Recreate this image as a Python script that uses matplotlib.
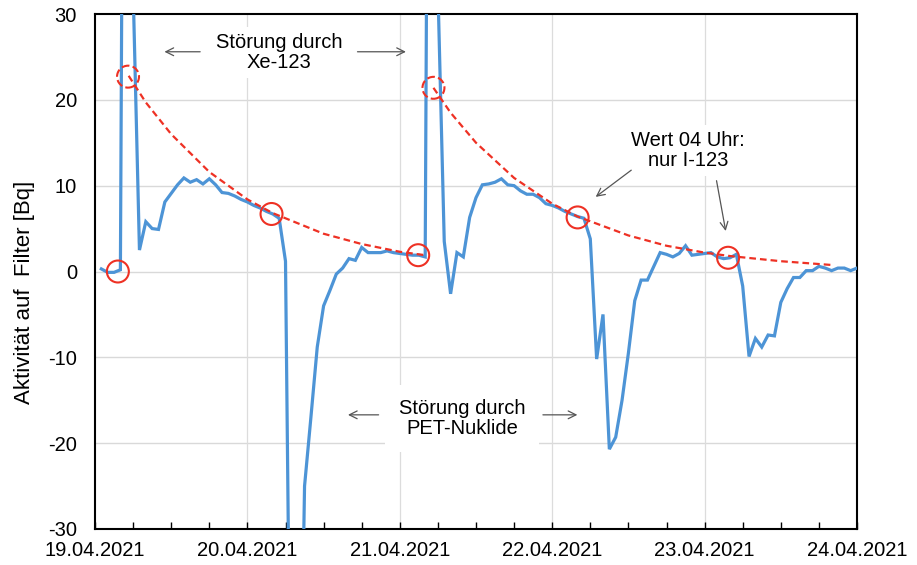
import matplotlib
matplotlib.use('Agg')
import matplotlib.pyplot as plt
from matplotlib.ticker import MultipleLocator

plt.rcParams['font.family'] = ['Liberation Sans', 'DejaVu Sans']

# ---- data (x in hours since 19.04.2021 00:00) ----
blue_hours = list(range(1, 121))
blue_values = [
    0.3, -0.1, -0.1, 0.2, 150, 33, 2.5, 5.8, 5.0, 4.9,
    8.1, 9.1, 10.1, 10.9, 10.4, 10.7, 10.2, 10.8, 10.1, 9.2,
    9.1, 8.8, 8.4, 8.1, 7.7, 7.4, 7.0, 6.7, 6.2, 1.2,
    -70, -70, -25, -17, -8.8, -4.0, -2.2, -0.3, 0.4, 1.5,
    1.3, 2.8, 2.2, 2.2, 2.2, 2.4, 2.2, 2.1, 2.0, 1.9,
    1.9, 1.7, 150, 33, 3.5, -2.6, 2.2, 1.7, 6.3, 8.6,
    10.1, 10.2, 10.4, 10.8, 10.1, 10.0, 9.4, 9.0, 9.0, 8.6,
    7.9, 7.7, 7.4, 7.0, 6.7, 6.4, 6.2, 3.8, -10.2, -5.0,
    -20.7, -19.3, -15.0, -9.5, -3.4, -1.0, -1.0, 0.6, 2.2, 2.0,
    1.7, 2.1, 3.0, 1.9, 2.0, 2.1, 2.2, 1.7, 1.5, 1.6,
    2.0, -1.7, -9.9, -7.8, -8.8, -7.4, -7.5, -3.6, -2.0, -0.7,
    -0.7, 0.1, 0.1, 0.6, 0.4, 0.1, 0.4, 0.4, 0.1, 0.4,
]

decay1_hours = [5.3, 8, 12, 18, 24, 28, 36, 42, 48, 52]
decay1_values = [22.8, 19.7, 16.0, 11.6, 8.4, 6.8, 4.4, 3.2, 2.3, 1.9]
decay2_hours = [53.3, 56, 60, 66, 72, 76, 84, 90, 96, 100, 108, 116]
decay2_values = [21.4, 18.5, 15.0, 10.9, 7.9, 6.4, 4.2, 3.0, 2.2, 1.8, 1.2, 0.76]

circle_hours = [3.6, 27.8, 50.9, 76.0, 99.7]
circle_values = [0.0, 6.7, 1.9, 6.3, 1.6]
dcircle_hours = [5.2, 53.3]
dcircle_values = [22.7, 21.4]

xtick_hours = [0, 24, 48, 72, 96, 120]
xtick_labels = ['19.04.2021', '20.04.2021', '21.04.2021',
                '22.04.2021', '23.04.2021', '24.04.2021']
yticks = [-30, -20, -10, 0, 10, 20, 30]

BLUE = '#4d94d6'
RED = '#ee3124'
ARROW = '#555555'
FS = 14.5

fig = plt.figure(figsize=(9.17, 5.65), dpi=100)
ax = fig.add_axes([95/917, 36/565, 762/917, 515/565])

ax.set_xlim(0, 120)
ax.set_ylim(-30, 30)

# grid
for y in yticks[1:-1]:
    ax.axhline(y, color='#d9d9d9', lw=1.0, zorder=1)
for x in xtick_hours[1:-1]:
    ax.axvline(x, color='#dcdcdc', lw=0.9, zorder=1)

ax.plot(blue_hours, blue_values, color=BLUE, lw=2.3, zorder=3,
        solid_joinstyle='miter')
ax.plot(decay1_hours, decay1_values, color=RED, lw=1.6, dashes=(3.0, 1.8), zorder=4)
ax.plot(decay2_hours, decay2_values, color=RED, lw=1.6, dashes=(3.0, 1.8), zorder=4)

ax.scatter(circle_hours, circle_values, s=250, facecolors='none',
           edgecolors=RED, linewidths=1.5, zorder=5)
ax.scatter(dcircle_hours, dcircle_values, s=250, facecolors='none',
           edgecolors=RED, linewidths=1.5, linestyles='--', zorder=5)

# ticks
ax.set_xticks(xtick_hours)
ax.set_xticklabels(xtick_labels, fontsize=FS)
ax.xaxis.set_minor_locator(MultipleLocator(6))
ax.tick_params(axis='x', which='both', direction='in', length=5, width=1.0,
               pad=9, colors='black', top=False)
ax.set_yticks(yticks)
ax.set_yticklabels([str(v) for v in yticks], fontsize=FS)
ax.tick_params(axis='y', which='both', length=0, pad=13)

for s in ax.spines.values():
    s.set_linewidth(1.5)
    s.set_color('black')

ax.set_ylabel('Aktivität auf  Filter [Bq]', fontsize=16)
ax.yaxis.set_label_coords(-0.079, 0.46)

box = dict(facecolor='white', edgecolor='none', pad=4)
ax.text(29.0, 25.5, 'Störung durch\nXe-123', ha='center', va='center',
        fontsize=FS, linespacing=1.1, bbox=box, zorder=6)
ax.text(93.4, 14.1, 'Wert 04 Uhr:\nnur I-123', ha='center', va='center',
        fontsize=FS, linespacing=1.1, bbox=box, zorder=6)
ax.text(57.8, -17.1, 'Störung durch\nPET-Nuklide', ha='center', va='center',
        fontsize=FS, linespacing=1.1, bbox=dict(facecolor='white', edgecolor='none', pad=10),
        zorder=6)

arrow_kw = dict(arrowstyle='->', color=ARROW, lw=0.9, mutation_scale=14)
def arrow(x0, y0, x1, y1):
    ax.annotate('', xy=(x1, y1), xytext=(x0, y0), arrowprops=arrow_kw, zorder=7)

arrow(17.0, 25.6, 10.5, 25.6)
arrow(40.9, 25.6, 49.4, 25.6)
arrow(84.8, 12.0, 78.5, 8.5)
arrow(97.8, 10.9, 99.4, 4.4)
arrow(45.1, -16.7, 39.4, -16.7)
arrow(70.1, -16.7, 76.4, -16.7)

fig.savefig('out.png', dpi=100)
